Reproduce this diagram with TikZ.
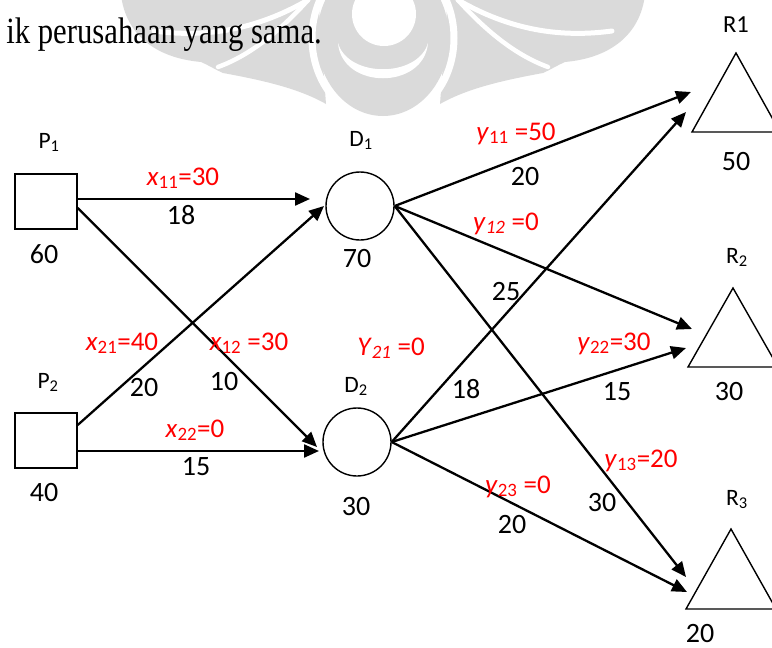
\documentclass[tikz,border=0pt]{standalone}
\usepackage{fontspec}
\usepackage{graphicx}
\setmainfont{Carlito}
\newfontfamily\serifface{Liberation Serif}
\usetikzlibrary{arrows.meta}

\definecolor{wmgrey}{RGB}{218,218,218}
\definecolor{flowred}{RGB}{255,0,0}

\tikzset{
  site/.style={draw, line width=1.4pt, fill=white, minimum width=62pt, minimum height=55pt, inner sep=0pt},
  depot/.style={draw, circle, line width=1.4pt, fill=white, minimum size=68pt, inner sep=0pt},
  market/.style={draw, line width=1.4pt, line join=miter},
  flow/.style={line width=2.3pt, -{Triangle[length=15pt,width=13pt]}},
  tag/.style={font=\fontsize{23.5}{27}\selectfont, inner sep=0pt, anchor=base},
  qty/.style={font=\fontsize{28}{33}\selectfont, inner sep=0pt, anchor=base},
  var/.style={font=\fontsize{27}{31}\selectfont, text=flowred, inner sep=0pt, anchor=base},
}

% one wing of the background emblem (right half; mirrored for the left)
\newcommand{\wingpart}{%
  \fill[wmgrey] (448,-5) -- (645,-5) .. controls (640,35) and (610,58) .. (565,62)
    .. controls (556,66) and (550,70) .. (543,73)
    .. controls (505,80) and (468,88) .. (440,104) -- cycle;
  \draw[white, line width=5pt, line cap=round] (458,0) .. controls (510,30) and (560,38) .. (612,31);
  \draw[white, line width=4.5pt, line cap=round] (458,0) .. controls (485,30) and (515,55) .. (548,67);
}

\begin{document}
\begin{tikzpicture}[x=1pt,y=-1pt]
\clip (0,0) rectangle (772,648);

% background emblem
\wingpart
\begin{scope}[xshift=766pt, xscale=-1]
  \wingpart
\end{scope}
\draw[white, line width=7pt] (383,38) ellipse [x radius=71pt, y radius=83pt];
\fill[wmgrey] (383,38) ellipse [x radius=66pt, y radius=78pt];
\fill[white] (384,14) circle (32pt);
\fill[white] (338,43) .. controls (342,90) and (424,90) .. (428,43)
  .. controls (418,78) and (348,78) .. cycle;

% running text
\node[anchor=base east, inner sep=0pt, font=\serifface\fontsize{37}{42}\selectfont] (sentence)
  at (322,43) {\scalebox{0.83}[1]{ik perusahaan yang sama.}};

% plants, depots, retailers
\node[site] (P1) at (46,201.5) {};
\node[site] (P2) at (46,440.5) {};
\node[depot] (D1) at (360,206) {};
\node[depot] (D2) at (357,442) {};
\draw[market] (692,132) -- (736,53) -- (780,132) -- cycle;
\draw[market] (688,367) -- (733,288) -- (778,367) -- cycle;
\draw[market] (686,609) -- (731,529) -- (776,609) -- cycle;

% arrow ends in front of depots and retailers
\coordinate (inD1a) at (310,199);
\coordinate (inD1b) at (324,206);
\coordinate (inD2a) at (319,451);
\coordinate (inD2b) at (317,447);
\coordinate (inR1a) at (691,92);
\coordinate (inR1b) at (686,112);
\coordinate (inR2a) at (692,329);
\coordinate (inR2b) at (686,348);
\coordinate (inR3a) at (686,577);
\coordinate (inR3b) at (687,592);

% shipments
\draw[flow] ([yshift=2.5pt]P1.east) -- (inD1a);
\draw[flow] ([yshift=-6.5pt]P1.east) -- (inD2b);
\draw[flow] ([yshift=15.5pt]P2.east) -- (inD1b);
\draw[flow] ([yshift=-10.5pt]P2.east) -- (inD2a);
\draw[flow] (D1.east) -- (inR1a);
\draw[flow] (D1.east) -- (inR2a);
\draw[flow] (D1.east) -- (inR3a);
\draw[flow] (D2.east) -- (inR1b);
\draw[flow] (D2.east) -- (inR2b);
\draw[flow] (D2.east) -- (inR3b);

% node names and capacities
\node[tag] (P1name) at (49,148) {P\textsubscript{1}};
\node[qty] (P1cap) at (44,263) {60};
\node[tag] (P2name) at (48,388) {P\textsubscript{2}};
\node[qty] (P2cap) at (44,501) {40};
\node[tag] (D1name) at (361,146) {D\textsubscript{1}};
\node[qty] (D1cap) at (357,267) {70};
\node[tag] (D2name) at (356,392) {D\textsubscript{2}};
\node[qty] (D2cap) at (356,515) {30};
\node[tag, font=\fontsize{24.5}{28}\selectfont] (R1name) at (736,32) {R1};
\node[qty] (R1dem) at (736,170) {50};
\node[tag] (R2name) at (737,263) {R\textsubscript{2}};
\node[qty] (R2dem) at (729,400) {30};
\node[tag] (R3name) at (737,505) {R\textsubscript{3}};
\node[qty] (R3dem) at (700,642) {20};

% plant to depot: flows and unit costs
\node[var] (x11) at (183,185) {\textit{x}\textsubscript{11}=30};
\node[qty] (c11) at (181,224) {18};
\node[var] (x21) at (122,350) {\textit{x}\textsubscript{21}=40};
\node[var] (x12) at (249,350) {\textit{x}\textsubscript{12} =30};
\node[qty] (c21) at (144,396) {20};
\node[qty] (c12) at (224,390) {10};
\node[var] (x22) at (195,437) {\textit{x}\textsubscript{22}=0};
\node[qty] (c22) at (196,475) {15};

% depot to retailer: flows and unit costs
\node[var] (y11) at (516,140) {\textit{y}\textsubscript{11} =50};
\node[qty] (d11) at (525,185) {20};
\node[var] (y12) at (506,230) {\textit{y}\textsubscript{\itshape 12} =0};
\node[qty] (d12) at (506,300) {25};
\node[var] (y21) at (391,355) {\textit{Y}\textsubscript{\itshape 21} =0};
\node[qty] (d21) at (466,398) {18};
\node[var] (y22) at (614,350) {\textit{y}\textsubscript{22}=30};
\node[qty] (d22) at (617,400) {15};
\node[var] (y13) at (641,467) {\textit{y}\textsubscript{13}=20};
\node[qty] (d13) at (602,511) {30};
\node[var] (y23) at (518,493) {\textit{y}\textsubscript{23} =0};
\node[qty] (d23) at (512,533) {20};
\end{tikzpicture}
\end{document}
